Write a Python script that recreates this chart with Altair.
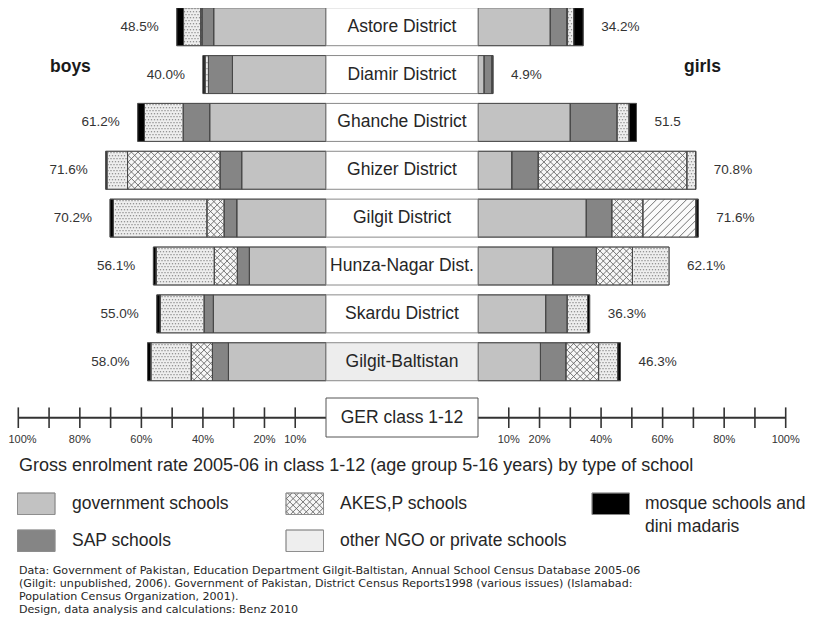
import math
import altair as alt
import pandas as pd

# ---------------- data ----------------
districts = ["Astore District", "Diamir District", "Ghanche District", "Ghizer District",
             "Gilgit District", "Hunza-Nagar Dist.", "Skardu District", "Gilgit-Baltistan"]
categories = ["government schools", "SAP schools", "AKES,P schools",
              "other NGO or private schools", "mosque schools and dini madaris"]

boys_gov    = [36.5, 30.4, 37.8, 27.4, 29.0, 24.9, 36.6, 31.7]
boys_sap    = [3.8, 7.8, 8.6, 7.0, 4.1, 3.9, 3.0, 5.2]
boys_akes   = [0.4, 0.0, 0.0, 30.1, 5.6, 7.5, 0.0, 6.9]
boys_other  = [5.6, 1.1, 12.6, 6.7, 30.4, 18.9, 14.3, 13.1]
boys_mosque = [2.2, 0.7, 2.2, 0.4, 1.1, 0.9, 1.1, 1.1]
boys_labels = ["48.5%", "40.0%", "61.2%", "71.6%", "70.2%", "56.1%", "55.0%", "58.0%"]

girls_gov    = [23.5, 2.0, 30.0, 11.0, 35.2, 24.3, 22.0, 20.3]
girls_sap    = [5.3, 2.5, 15.2, 8.6, 8.3, 14.2, 7.0, 8.3]
girls_akes   = [0.3, 0.0, 0.0, 48.3, 10.1, 11.7, 0.0, 10.6]
girls_other  = [2.0, 0.2, 3.9, 2.8, 17.2, 11.9, 6.6, 6.2]
girls_mosque = [3.1, 0.2, 2.4, 0.1, 0.8, 0.0, 0.7, 0.9]
girls_labels = ["34.2%", "4.9%", "51.5", "70.8%", "71.6%", "62.1%", "36.3%", "46.3%"]

# the "other" segment of Gilgit girls is drawn with a single diagonal hatch
single_hatch = [("Gilgit District", "girls", "other NGO or private schools")]

axis_ticks = [10, 20, 30, 40, 50, 60, 70, 80, 90, 100]
left_tick_labels = [100, 80, 60, 40, 20, 10]
right_tick_labels = [10, 20, 40, 60, 80, 100]

title_text = "Gross enrolment rate 2005-06 in class 1-12 (age group 5-16 years) by type of school"
note_lines = [
    "Data: Government of Pakistan, Education Department Gilgit-Baltistan, Annual School Census Database 2005-06",
    "(Gilgit: unpublished, 2006). Government of Pakistan, District Census Reports1998 (various issues) (Islamabad:",
    "Population Census Organization, 2001).",
    "Design, data analysis and calculations: Benz 2010",
]

# ---------------- layout ----------------
FONT = "Liberation Sans"
W, H = 798, 613
KX = 3.077      # px per percentage point
KY = 47.86      # px per row
CX = 402.0      # page x of the centre
CY0 = 26.7      # page y of first row centre
HALF = 76.0 / KX
BAR_H = 19.0 / KY


def ux(px):
    return (px - CX) / KX


def ry(py):
    return (py - CY0) / KY


xs = alt.Scale(domain=[ux(8), ux(8 + W)], nice=False, zero=False)
ys = alt.Scale(domain=[ry(8), ry(8 + H)], nice=False, zero=False, reverse=True)


def X(f):
    return alt.X(f, type="quantitative", scale=xs, axis=None)


def Y(f):
    return alt.Y(f, type="quantitative", scale=ys, axis=None)


fills = ["#c2c2c2", "#858585", "#f7f7f7", "#eeeeee", "#000000"]
color = alt.Color("category:N", scale=alt.Scale(domain=categories, range=fills), legend=None)


def hatch_lines(u0, u1, r0, r1, spacing, dirs):
    x0, x1 = sorted((u0 * KX, u1 * KX))
    y0, y1 = sorted((r0 * KY, r1 * KY))
    out = []
    for d in dirs:
        if d == "/":
            cmin, cmax = x0 + y0, x1 + y1
        else:
            cmin, cmax = x0 - y1, x1 - y0
        c = (math.floor(cmin / spacing) + 1) * spacing
        while c < cmax:
            if d == "/":
                xa, xb = max(x0, c - y1), min(x1, c - y0)
                ya, yb = c - xa, c - xb
            else:
                xa, xb = max(x0, c + y0), min(x1, c + y1)
                ya, yb = xa - c, xb - c
            if xb - xa > 0.3:
                out.append(dict(a=xa / KX, b=xb / KX, ra=ya / KY, rb=yb / KY))
            c += spacing
    return out


def dot_grid(u0, u1, r0, r1, spacing=3.0, inset=0.9):
    x0, x1 = sorted((u0 * KX, u1 * KX))
    y0, y1 = sorted((r0 * KY, r1 * KY))
    out = []
    j = math.ceil((y0 + inset) / spacing)
    while j * spacing <= y1 - inset:
        off = (j % 2) * spacing / 2
        k = math.ceil((x0 + inset - off) / spacing)
        while k * spacing + off <= x1 - inset:
            out.append(dict(u=(k * spacing + off) / KX, r=j * spacing / KY))
            k += 1
        j += 1
    return out


# ---------------- bar segments ----------------
boys = [boys_gov, boys_sap, boys_akes, boys_other, boys_mosque]
girls = [girls_gov, girls_sap, girls_akes, girls_other, girls_mosque]
seg_rows, hatch_rows, single_rows, dot_rows, pct_rows = [], [], [], [], []
for i, d in enumerate(districts):
    for sex, series, sign, labels in (("boys", boys, -1, boys_labels), ("girls", girls, 1, girls_labels)):
        start = 0.0
        for cat, vals in zip(categories, series):
            v = vals[i]
            if v > 0:
                u0, u1 = sign * (HALF + start), sign * (HALF + start + v)
                special = (d, sex, cat) in single_hatch
                seg_rows.append(dict(district=d, sex=sex, category=cat, u0=u0, u1=u1,
                                     r0=i - BAR_H, r1=i + BAR_H,
                                     special=special))
                if special:
                    single_rows += hatch_lines(u0, u1, i - BAR_H, i + BAR_H, 7.5, ["/"])
                elif cat == "AKES,P schools":
                    hatch_rows += hatch_lines(u0, u1, i - BAR_H, i + BAR_H, 6.6, ["/", "\\"])
                elif cat == "other NGO or private schools":
                    dot_rows += dot_grid(u0, u1, i - BAR_H, i + BAR_H)
            start += v
        pct_rows.append(dict(sex=sex, r=i, text=labels[i],
                             u=sign * (HALF + start + 18.0 / KX)))

seg = pd.DataFrame(seg_rows)
seg_normal = seg[~seg["special"]].drop(columns="special")
seg_special = seg[seg["special"]].drop(columns="special")
pct = pd.DataFrame(pct_rows)

bars = alt.Chart(seg_normal).mark_rect(stroke="#474747", strokeWidth=0.8).encode(
    x=X("u0"), x2="u1", y=Y("r0"), y2="r1", color=color)
bars_special = alt.Chart(seg_special).mark_rect(stroke="#474747", strokeWidth=0.8, fill="#fbfbfb").encode(
    x=X("u0"), x2="u1", y=Y("r0"), y2="r1")

hatch = alt.Chart(pd.DataFrame(hatch_rows)).mark_rule(color="#666666", strokeWidth=0.9).encode(
    x=X("a"), x2="b", y=Y("ra"), y2="rb")
hatch_single = alt.Chart(pd.DataFrame(single_rows)).mark_rule(color="#666666", strokeWidth=0.9).encode(
    x=X("a"), x2="b", y=Y("ra"), y2="rb")

# ---------------- centre boxes ----------------
box_df = pd.DataFrame(dict(district=districts, r=list(range(len(districts)))))
box_df["u0"] = -HALF
box_df["u1"] = HALF
box_df["r0"] = box_df["r"] - BAR_H
box_df["r1"] = box_df["r"] + BAR_H
box_df["u"] = 0.0
box_df["fill"] = ["#ffffff"] * 7 + ["#ededed"]

boxes = alt.Chart(box_df).mark_rect(stroke="#8a8a8a", strokeWidth=1).encode(
    x=X("u0"), x2="u1", y=Y("r0"), y2="r1", fill=alt.Fill("fill:N", scale=None))
box_text = alt.Chart(box_df).mark_text(font=FONT, fontSize=17.5, color="#262626", baseline="middle").encode(
    x=X("u"), y=Y("r"), text="district:N")

pct_left = alt.Chart(pct[pct.sex == "boys"]).mark_text(
    font=FONT, fontSize=13.5, color="#333333", align="right", baseline="middle").encode(
    x=X("u"), y=Y("r"), text="text:N")
pct_right = alt.Chart(pct[pct.sex == "girls"]).mark_text(
    font=FONT, fontSize=13.5, color="#333333", align="left", baseline="middle").encode(
    x=X("u"), y=Y("r"), text="text:N")

# ---------------- custom axis ----------------
R_AX = ry(417.7)
ax_lines = pd.DataFrame(dict(u0=[-(HALF + 100), HALF], u1=[-HALF, HALF + 100], r=[R_AX, R_AX]))
axis_line = alt.Chart(ax_lines).mark_rule(color="#333333", strokeWidth=2).encode(
    x=X("u0"), x2="u1", y=Y("r"))
tick_rows = [dict(u=s * (HALF + t), r0=R_AX - 10.3 / KY, r1=R_AX + 10.3 / KY)
             for s in (-1, 1) for t in axis_ticks]
ticks = alt.Chart(pd.DataFrame(tick_rows)).mark_rule(color="#333333", strokeWidth=1.6).encode(
    x=X("u"), y=Y("r0"), y2="r1")
lab_rows = [dict(u=max(-(HALF + t), ux(22.5)), r=ry(439.5), text=f"{t}%") for t in left_tick_labels] + \
           [dict(u=HALF + t, r=ry(439.5), text=f"{t}%") for t in right_tick_labels]
tick_labels = alt.Chart(pd.DataFrame(lab_rows)).mark_text(
    font=FONT, fontSize=11, color="#333333", baseline="middle").encode(
    x=X("u"), y=Y("r"), text="text:N")
ger_df = pd.DataFrame(dict(u0=[-HALF], u1=[HALF], r0=[ry(398)], r1=[ry(437)], u=[0.0],
                           r=[ry(417.5)], text=["GER class 1-12"]))
ger_box = alt.Chart(ger_df).mark_rect(fill="white", stroke="#555555", strokeWidth=1).encode(
    x=X("u0"), x2="u1", y=Y("r0"), y2="r1")
ger_text = alt.Chart(ger_df).mark_text(font=FONT, fontSize=17.5, color="#262626", baseline="middle").encode(
    x=X("u"), y=Y("r"), text="text:N")

# ---------------- legend ----------------
leg_col_x = [17.5, 286, 592]
leg_text_dx = [54.5, 54, 53]
leg_row_y = [493, 530]
leg_pos = {categories[0]: (0, 0), categories[1]: (0, 1), categories[2]: (1, 0),
           categories[3]: (1, 1), categories[4]: (2, 0)}
leg_rows, leg_text_rows, leg_hatch_rows, leg_dot_rows = [], [], [], []
for cat in categories:
    c, r = leg_pos[cat]
    x0 = leg_col_x[c]
    y0 = leg_row_y[r]
    rect = (ux(x0), ux(x0 + 37.5), ry(y0), ry(y0 + 21.5))
    leg_rows.append(dict(category=cat, u0=rect[0], u1=rect[1], r0=rect[2], r1=rect[3]))
    if cat == "AKES,P schools":
        leg_hatch_rows += hatch_lines(*rect, 6.6, ["/", "\\"])
    if cat == "other NGO or private schools":
        leg_dot_rows += dot_grid(*rect)
    parts = ["mosque schools and", "dini madaris"] if cat.startswith("mosque") else [cat]
    for k, p in enumerate(parts):
        leg_text_rows.append(dict(u=ux(x0 + leg_text_dx[c]), r=ry(y0 + 10.5 + 23 * k), text=p))
leg_df = pd.DataFrame(leg_rows)
legend_rects = alt.Chart(leg_df).mark_rect(stroke="#8a8a8a", strokeWidth=0.8).encode(
    x=X("u0"), x2="u1", y=Y("r0"), y2="r1", color=color)
legend_hatch = alt.Chart(pd.DataFrame(leg_hatch_rows)).mark_rule(color="#666666", strokeWidth=0.9).encode(
    x=X("a"), x2="b", y=Y("ra"), y2="rb")

all_dots = pd.DataFrame(dot_rows + leg_dot_rows)
dots = alt.Chart(all_dots).mark_point(shape="square", filled=True, size=1.6, color="#8f8f8f", opacity=1).encode(
    x=X("u"), y=Y("r"))

outlines = alt.Chart(seg).mark_rect(stroke="#474747", strokeWidth=0.8, fillOpacity=0).encode(
    x=X("u0"), x2="u1", y=Y("r0"), y2="r1")
legend_outline = alt.Chart(leg_df).mark_rect(stroke="#8a8a8a", strokeWidth=0.8, fillOpacity=0).encode(
    x=X("u0"), x2="u1", y=Y("r0"), y2="r1")
legend_text = alt.Chart(pd.DataFrame(leg_text_rows)).mark_text(
    font=FONT, fontSize=17.5, color="#262626", align="left", baseline="middle").encode(
    x=X("u"), y=Y("r"), text="text:N")

# ---------------- free text ----------------
bg_df = pd.DataFrame(dict(u=[ux(50), ux(684)], r=[ry(67), ry(67)], text=["boys", "girls"]))
boys_girls = alt.Chart(bg_df).mark_text(font=FONT, fontSize=17.5, fontWeight="bold", color="#1a1a1a",
                                        align="left", baseline="middle").encode(
    x=X("u"), y=Y("r"), text="text:N")
title_df = pd.DataFrame(dict(u=[ux(19)], r=[ry(466)], text=[title_text]))
title = alt.Chart(title_df).mark_text(font=FONT, fontSize=18, color="#262626",
                                      align="left", baseline="middle").encode(
    x=X("u"), y=Y("r"), text="text:N")
notes_df = pd.DataFrame(dict(u=[ux(19)] * len(note_lines),
                             r=[ry(570.5 + 13.0 * k) for k in range(len(note_lines))],
                             text=note_lines))
notes = alt.Chart(notes_df).mark_text(font="DejaVu Sans", fontSize=11.1, color="#262626",
                                      align="left", baseline="middle").encode(
    x=X("u"), y=Y("r"), text="text:N")

chart = alt.layer(
    bars, bars_special, hatch, hatch_single, dots, outlines, boxes, box_text, pct_left, pct_right,
    axis_line, ticks, tick_labels, ger_box, ger_text,
    legend_rects, legend_hatch, legend_outline, legend_text,
    boys_girls, title, notes,
).properties(
    width=W, height=H, padding=0, autosize=alt.AutoSizeParams(type="none")
).configure_view(stroke=None)

chart.save("out.html", embed_options={"renderer": "svg", "actions": False})
